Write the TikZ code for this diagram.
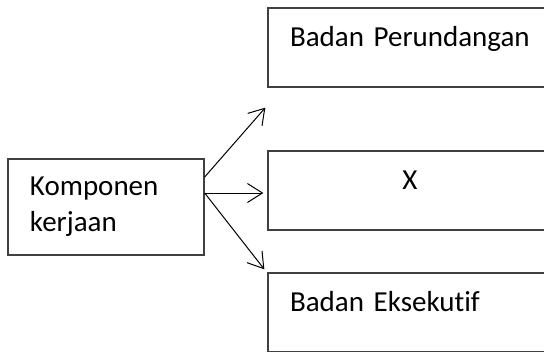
\documentclass[tikz,border=0pt]{standalone}
\usepackage{fontspec}
\setmainfont{Carlito}[Ligatures=NoCommon]
\usetikzlibrary{arrows.meta,calc}

\tikzset{
	box/.style={draw=black!75, line width=1.3bp, rectangle, inner xsep=22bp, inner ysep=0bp, font=\fontsize{29bp}{36bp}\selectfont},
	sidebox/.style={box, minimum width=284bp, minimum height=79bp, text width=240bp, text height=18bp, text depth=21bp},
	arr/.style={-{Straight Barb[length=15bp,width=19bp,line width=1bp]}, line width=1bp}
}

\begin{document}
\begin{tikzpicture}[x=1bp,y=1bp]

	% frame
	\useasboundingbox (0,0) rectangle (544,351);
	\clip (0,0) rectangle (544,351);

	% left box
	\node[box, minimum width=194bp, minimum height=96bp, text width=152bp, align=left] (komponen) at (106,144) {Komponen\\kerjaan};

	% right boxes
	\node[sidebox, align=left] (perundangan) at (410,303.5) {Badan Perundangan};
	\node[sidebox, align=center] (x) at (410,160.5) {X};
	\node[sidebox, align=left] (eksekutif) at (410,38.5) {Badan Eksekutif};

	% arrow ends
	\coordinate (tipA) at ($(perundangan.south west)+(-2,-20)$);
	\coordinate (tipB) at ($(x.west)+(-4,-2.5)$);
	\coordinate (tipC) at ($(eksekutif.north west)+(-3,3)$);

	% arrows
	\draw[arr] ($(komponen.east)+(0,30)$) -- (tipA);
	\draw[arr] ($(komponen.east)+(0,14)$) -- (tipB);
	\draw[arr] ($(komponen.east)+(0,14)$) -- (tipC);

\end{tikzpicture}
\end{document}
